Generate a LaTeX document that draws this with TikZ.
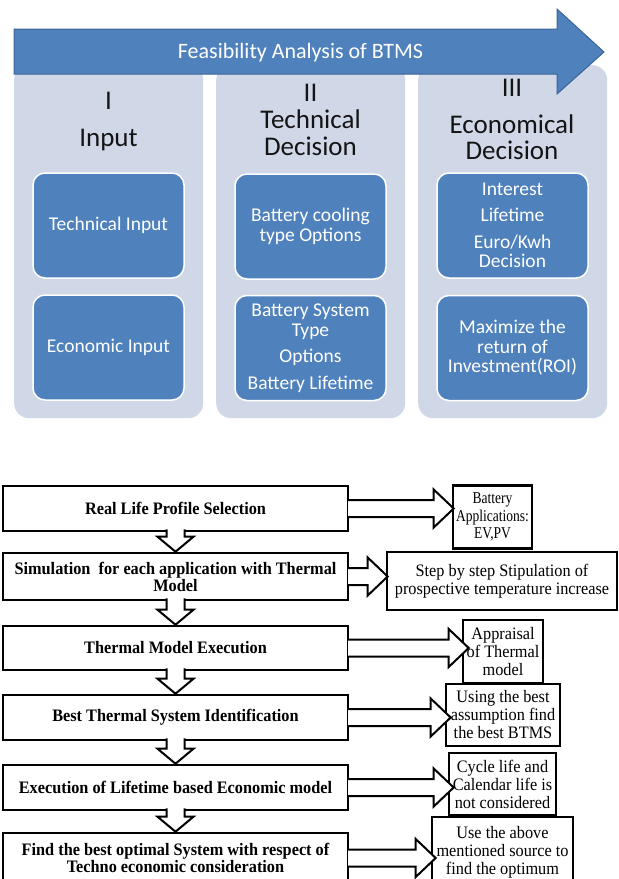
\documentclass[tikz,border=0pt]{standalone}
\usepackage{fontspec}
\setmainfont{Liberation Serif}
\newfontfamily\condserif[FakeStretch=0.93]{Liberation Serif}
\newfontfamily\narrowserif[FakeStretch=0.82]{Liberation Serif}
\newfontfamily\calibri{Carlito}
\usetikzlibrary{calc}
\definecolor{myblue}{RGB}{79,129,189}
\definecolor{arrowedge}{RGB}{60,100,150}
\definecolor{colfill}{RGB}{208,216,232}
\definecolor{headtext}{RGB}{20,20,20}
\tikzset{
 colbox/.style={fill=colfill, rounded corners=15pt, minimum width=189pt, minimum height=353pt, draw=none, inner sep=0pt, anchor=north west},
 ibox/.style={fill=myblue, draw=white, line width=1.5pt, rounded corners=12pt, minimum width=151pt, minimum height=105pt, text=white, align=center, font=\calibri\fontsize{19.5}{19.5}\selectfont, inner sep=2pt},
 headtxt/.style={font=\calibri\fontsize{27}{27}\selectfont, text=headtext, inner sep=0pt, text height=18pt, text depth=0pt},
 lbox/.style={draw=black, line width=2.6pt, fill=white, minimum width=345pt, align=center, font=\condserif\bfseries\fontsize{17.5}{17}\selectfont, inner sep=1pt},
 rbox/.style={draw=black, line width=2.6pt, fill=white, align=center, font=\condserif\fontsize{17.5}{18}\selectfont, inner sep=0pt},
 blockarr/.style={draw=black, line width=2pt, fill=white, line join=miter},
}
\newcommand\myrarr[3]{\draw[blockarr] let \p1=(#1.east), \p2=(#2.west) in
  (\x1-1.3pt,\y1+8.5pt) -- (\x2+#3pt-20pt,\y1+8.5pt) -- (\x2+#3pt-20pt,\y1+19pt) -- (\x2+#3pt,\y1)
  -- (\x2+#3pt-20pt,\y1-19pt) -- (\x2+#3pt-20pt,\y1-8.5pt) -- (\x1-1.3pt,\y1-8.5pt);}
\newcommand\mydarr[2]{\draw[blockarr] let \p1=(#1.south), \p2=(#2.north) in
  (\x1-9pt,\y1+3pt) -- (\x1-9pt,\y2+15pt) -- (\x1-18pt,\y2+15pt) -- (\x1,\y2)
  -- (\x1+18pt,\y2+15pt) -- (\x1+9pt,\y2+15pt) -- (\x1+9pt,\y1+3pt);}
\begin{document}
\begin{tikzpicture}[x=1pt,y=-1pt]
\useasboundingbox (0,0) rectangle (619,879);
\fill[white] (0,0) rectangle (619,879);
% columns
\node[colbox] (col1) at (14,65) {};
\node[colbox] (col2) at (216,65) {};
\node[colbox] (col3) at (418,65) {};
% big arrow
\draw[fill=myblue, draw=arrowedge, line width=1pt] (14,29) -- (557,29) -- (557,9) -- (604,52) -- (557,94) -- (557,74) -- (14,74) -- cycle;
\node[font=\calibri\fontsize{22}{22}\selectfont, text=white, inner sep=0pt, text height=14.2pt, text depth=0pt] (title) at (300.5,51.5) {Feasibility Analysis of BTMS};
% headings
\node[headtxt] (h1a) at (108.5,100) {I};
\node[headtxt] (h1b) at (108.5,137) {Input};
\node[headtxt] (h2a) at (310.5,92) {II};
\node[headtxt] (h2b) at (310.5,119) {Technical};
\node[headtxt] (h2c) at (310.5,146) {Decision};
\node[headtxt] (h3a) at (512,87) {III};
\node[headtxt] (h3b) at (512,124) {Economical};
\node[headtxt] (h3c) at (512,150) {Decision};
% inner boxes
\node[ibox] (i11) at (108.5,225.5) {Technical Input};
\node[ibox] (i12) at (108.5,347.5) {Economic Input};
\node[ibox] (i21) at (310.5,226.5) {Battery cooling\\type Options};
\node[ibox] (i22) at (310.5,348) {Battery System\\Type\\[7pt]Options\\[7pt]Battery Lifetime};
\node[ibox] (i31) at (512.5,225.5) {Interest\\[7pt]Lifetime\\[7pt]Euro/Kwh\\Decision};
\node[ibox] (i32) at (512.5,348) {Maximize the\\return of\\Investment(ROI)};
% left boxes
\node[lbox, minimum height=45pt] (b1) at (175.5,508.5) {Real Life Profile Selection};
\node[lbox, minimum height=47pt] (b2) at (175.5,576.5) {Simulation\ \ for each application with Thermal\\Model};
\node[lbox, minimum height=44pt] (b3) at (175.5,648) {Thermal Model Execution};
\node[lbox, minimum height=45pt] (b4) at (175.5,717.5) {Best Thermal System Identification};
\node[lbox, minimum height=45pt] (b5) at (175.5,787.5) {Execution of Lifetime based Economic model};
\node[lbox, minimum height=50pt] (b6) at (175.5,858) {Find the best optimal System with respect of\\Techno economic consideration};
% right boxes
\node[rbox, minimum width=79pt, minimum height=63pt, font=\narrowserif\fontsize{16.5}{17.5}\selectfont] (r1) at (492.5,517) {Battery\\Applications:\\EV,PV};
\node[rbox, minimum width=230pt, minimum height=58pt] (r2) at (502,581) {Step by step Stipulation of\\prospective temperature increase};
\node[rbox, minimum width=80pt, minimum height=63pt] (r3) at (503,651.5) {Appraisal\\of Thermal\\model};
\node[rbox, minimum width=114pt, minimum height=62pt] (r4) at (503,715) {Using the best\\assumption find\\the best BTMS};
\node[rbox, minimum width=107pt, minimum height=62pt] (r5) at (502.5,784) {Cycle life and\\Calendar life is\\not considered};
\node[rbox, minimum width=141pt, minimum height=70pt] (r6) at (502.5,852) {Use the above\\mentioned\ source to\\find the optimum};
% right arrows
\myrarr{b1}{r1}{2}
\myrarr{b2}{r2}{2}
\myrarr{b3}{r3}{7}
\myrarr{b4}{r4}{6}
\myrarr{b5}{r5}{6}
\myrarr{b6}{r6}{5}
% down arrows
\mydarr{b1}{b2}
\mydarr{b2}{b3}
\mydarr{b3}{b4}
\mydarr{b4}{b5}
\mydarr{b5}{b6}
\end{tikzpicture}
\end{document}
